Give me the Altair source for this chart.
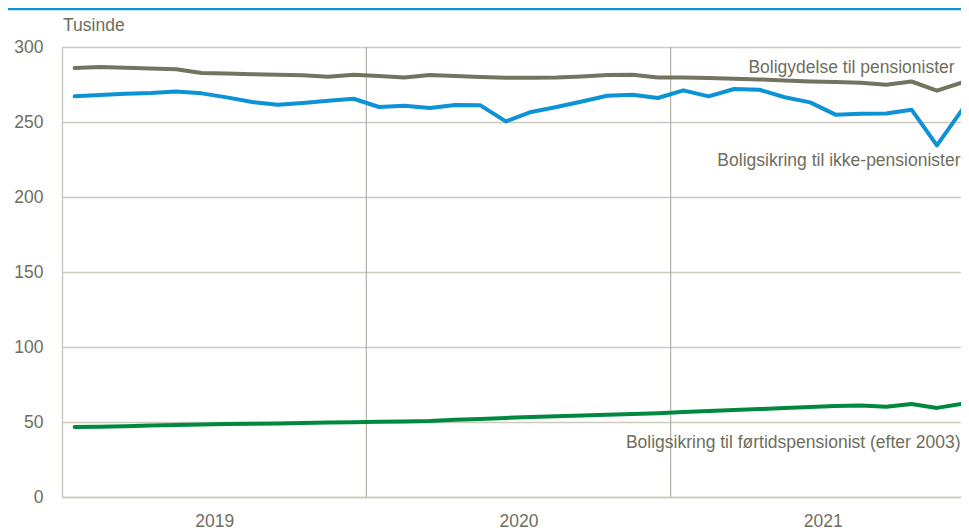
import altair as alt
import pandas as pd

# Month index 0..35 = Jan 2019 .. Dec 2021 (points centred within each month)
months = list(range(36))
years = [2019, 2020, 2021]
year_bounds = [12, 24]

s_pension = "Boligydelse til pensionister"
s_ikke = "Boligsikring til ikke-pensionister"
s_fort = "Boligsikring til førtidspensionist (efter 2003)"

pension = [286.0, 286.7, 286.2, 285.7, 285.1, 282.7, 282.3, 281.9, 281.5, 281.1, 280.2, 281.5,
           280.6, 279.7, 281.3, 280.6, 280.0, 279.5, 279.5, 279.7, 280.4, 281.3, 281.5, 279.7,
           279.7, 279.3, 278.9, 278.4, 277.7, 277.0, 276.6, 276.2, 274.9, 277.0, 270.9, 276.4]
ikke = [267.1, 268.0, 268.9, 269.3, 270.4, 269.1, 266.4, 263.3, 261.5, 262.7, 264.2, 265.5,
        260.0, 260.9, 259.3, 261.3, 261.1, 250.4, 256.7, 260.0, 263.7, 267.5, 268.2, 266.0,
        271.1, 267.1, 272.0, 271.5, 266.5, 263.1, 254.9, 255.5, 255.7, 258.2, 234.4, 258.3]
fort = [46.7, 46.8, 47.2, 47.6, 48.0, 48.3, 48.6, 48.8, 49.0, 49.3, 49.6, 49.9,
        50.1, 50.3, 50.6, 51.5, 52.0, 52.7, 53.3, 53.8, 54.3, 54.8, 55.3, 55.9,
        56.7, 57.3, 58.0, 58.6, 59.3, 60.0, 60.6, 61.0, 60.1, 62.0, 59.4, 62.2]

series = [s_pension, s_ikke, s_fort]
colors = ["#74735f", "#0b93d5", "#00893e"]
values = [pension, ikke, fort]

TEXT = "#6f6e5e"
GRID = "#cbcabe"
VGRID = "#b3b1a5"
FONT = "Liberation Sans"
FS = 17.5
W = 899

rows = []
for name, vals in zip(series, values):
    for m, v in zip(months, vals):
        rows.append({"serie": name, "m": m + 0.5, "v": v})
df = pd.DataFrame(rows)

xscale = alt.Scale(domain=[0, 35.45], nice=False, zero=False)
yscale = alt.Scale(domain=[0, 300], nice=False)

base = alt.Chart(df)

lines = base.mark_line(strokeWidth=4, strokeCap="round", strokeJoin="round", clip=True).encode(
    x=alt.X("m:Q", scale=xscale,
            axis=alt.Axis(values=[6, 18, 30], title=None, grid=False, ticks=False,
                          labelExpr="toString(2019 + floor(datum.value / 12))",
                          labelFont=FONT, labelFontSize=FS, labelColor=TEXT,
                          labelPadding=15, domainColor=GRID, domainWidth=1.5)),
    y=alt.Y("v:Q", scale=yscale,
            axis=alt.Axis(values=[0, 50, 100, 150, 200, 250, 300], title=None, ticks=False,
                          labelFont=FONT, labelFontSize=FS, labelColor=TEXT,
                          labelPadding=19, gridColor=GRID, gridWidth=1.5,
                          domainColor=GRID, domainWidth=1.5)),
    color=alt.Color("serie:N", scale=alt.Scale(domain=series, range=colors), legend=None),
    detail="serie:N",
)

vrules = alt.Chart(pd.DataFrame({"b": year_bounds})).mark_rule(
    color=VGRID, strokeWidth=1.2).encode(x=alt.X("b:Q", scale=xscale))

lab_df = pd.DataFrame({
    "t": series,
    "lx": [35.2, 35.43, 35.43],
    "ly": [282.5, 220.9, 32.5],
})
labels = alt.Chart(lab_df).mark_text(
    align="right", baseline="alphabetic", font=FONT, fontSize=FS, color=TEXT
).encode(
    x=alt.X("lx:Q", scale=xscale),
    y=alt.Y("ly:Q", scale=yscale),
    text="t:N",
)

unit = alt.Chart(pd.DataFrame({"t": ["Tusinde"]})).mark_text(
    align="left", baseline="alphabetic", font=FONT, fontSize=FS, color=TEXT
).encode(x=alt.value(1), y=alt.value(-16), text="t:N")

header = alt.Chart(pd.DataFrame({"a": [0]})).mark_rule(
    color="#0b93d5", strokeWidth=2.5
).encode(x=alt.value(-54), x2=alt.value(W), y=alt.value(-38))

chart = alt.layer(vrules, lines, labels, unit, header).properties(
    width=W, height=450,
    autosize=alt.AutoSizeParams(type="none"),
    padding={"left": 54, "top": 39, "right": 0, "bottom": 33},
).configure_view(strokeWidth=0).configure(background="white")

chart.save("out.html", embed_options={"renderer": "svg", "actions": False})
